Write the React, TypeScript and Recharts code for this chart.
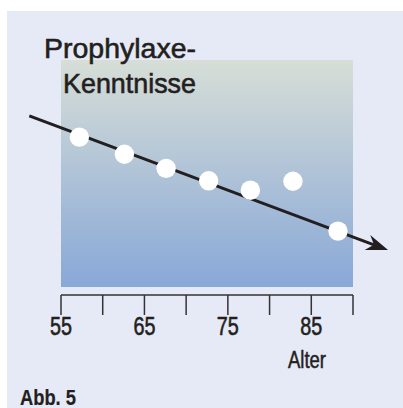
import { ScatterChart, Scatter, XAxis, YAxis, ReferenceArea, ReferenceLine } from "recharts";

// Alter (x) und Kenntnisse (y, ohne Skala)
const ages = [57.2, 62.6, 67.6, 72.7, 77.7, 82.8, 88.2];
const knowledge = [67.2, 59.9, 53.9, 48.6, 44.6, 48.4, 27.2];
const xTicks = [55, 60, 65, 70, 75, 80, 85, 90];
const labelledTicks = [55, 65, 75, 85];
const trendAges = [51.2, 94.2];
const trendValues = [76.2, 19.1];

const points = ages.map((a, i) => ({ age: a, value: knowledge[i] }));

const ink = "#231f20";
const font = "'Liberation Sans', Arial, sans-serif";

const AgeTick = (props: any) => {
  const { x, y, payload } = props;
  if (!labelledTicks.includes(payload.value)) return null;
  return (
    <text x={x} y={y + 18} textAnchor="middle" fontSize={25.5} fill={ink} fontFamily={font}
      stroke={ink} strokeWidth={0.6} textLength={22} lengthAdjust="spacingAndGlyphs">
      {payload.value}
    </text>
  );
};

const Arrow = (props: any) => {
  const { x1, y1, x2, y2 } = props;
  const dx = x2 - x1;
  const dy = y2 - y1;
  const len = Math.sqrt(dx * dx + dy * dy);
  const ux = dx / len;
  const uy = dy / len;
  const back = 22;
  const notch = 15;
  const half = 8;
  const bx = x2 - ux * back;
  const by = y2 - uy * back;
  const nx = x2 - ux * notch;
  const ny = y2 - uy * notch;
  const pts = [
    [x2, y2],
    [bx - uy * half, by + ux * half],
    [nx, ny],
    [bx + uy * half, by - ux * half],
  ].map((p) => p.join(",")).join(" ");
  return (
    <g>
      <line x1={x1} y1={y1} x2={nx} y2={ny} stroke={ink} strokeWidth={3} />
      <polygon points={pts} fill={ink} />
    </g>
  );
};

export default function App() {
  return (
    <div style={{ position: "absolute", left: 0, top: 0, width: 403, height: 408, overflow: "hidden" }}>
      <div style={{ position: "absolute", left: 7, top: 11, right: 0, bottom: 0, background: "#e6eaf6" }} />
      <div style={{ position: "absolute", left: 0, top: 0 }}>
        <ScatterChart width={403} height={408} margin={{ top: 60, right: 50, bottom: 53, left: 61 }}>
          <defs>
            <linearGradient id="plotBg" x1="0" y1="0" x2="0" y2="1">
              <stop offset="0%" stopColor="#d7ded7" />
              <stop offset="100%" stopColor="#88a8d7" />
            </linearGradient>
          </defs>
          <XAxis type="number" dataKey="age" domain={[55, 90]} ticks={xTicks} interval={0}
            height={60} tickSize={20} stroke="#333" strokeWidth={1.5}
            tickLine={{ stroke: "#333", strokeWidth: 1.5 }} tick={<AgeTick />} />
          <YAxis type="number" dataKey="value" domain={[0, 100]} hide />
          <ReferenceArea x1={55} x2={90} y1={3.4} y2={100} fill="url(#plotBg)" fillOpacity={1} stroke="none" />
          <ReferenceLine
            segment={[
              { x: trendAges[0], y: trendValues[0] },
              { x: trendAges[1], y: trendValues[1] },
            ]}
            ifOverflow="visible"
            shape={<Arrow />}
          />
          <Scatter data={points} isAnimationActive={false}
            shape={(p: any) => <circle cx={p.cx} cy={p.cy} r={9.7} fill="#ffffff" />} />
        </ScatterChart>
      </div>
      <svg width={403} height={408} style={{ position: "absolute", left: 0, top: 0, pointerEvents: "none" }}>
        <g fontFamily={font} fill={ink} stroke={ink}>
          <text x={44} y={58} fontSize={28.5} strokeWidth={0.6} textLength={152} lengthAdjust="spacingAndGlyphs">Prophylaxe-</text>
          <text x={63} y={93} fontSize={28.5} strokeWidth={0.6} textLength={133} lengthAdjust="spacingAndGlyphs">Kenntnisse</text>
          <text x={288} y={368} fontSize={23} strokeWidth={0.5} textLength={38} lengthAdjust="spacingAndGlyphs">Alter</text>
          <text x={20} y={404.5} fontSize={21.5} strokeWidth={0.2} fontWeight="bold" textLength={56} lengthAdjust="spacingAndGlyphs">Abb. 5</text>
        </g>
      </svg>
    </div>
  );
}
